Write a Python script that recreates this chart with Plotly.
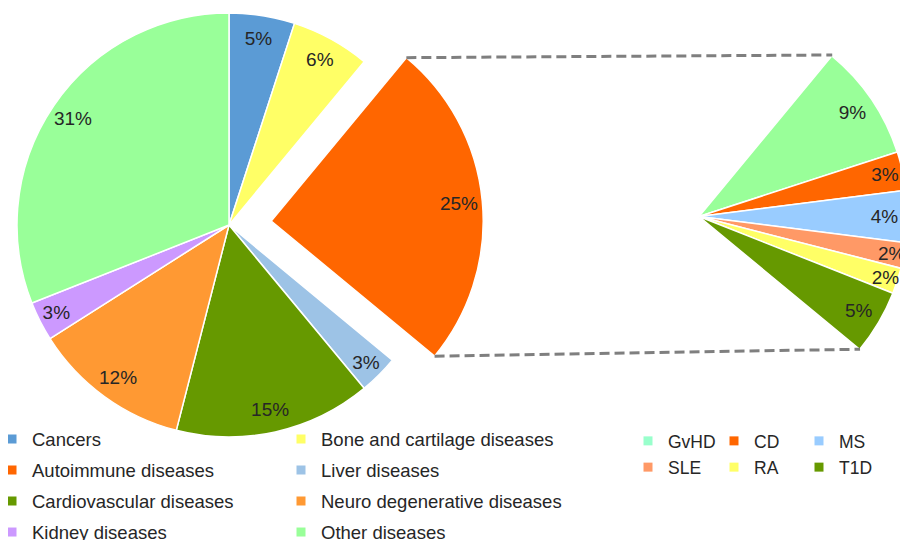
import math
import plotly.graph_objects as go

# ---------------- data ----------------
main_labels = ["Cancers", "Bone and cartilage diseases", "Autoimmune diseases",
               "Liver diseases", "Cardiovascular diseases",
               "Neuro degenerative diseases", "Kidney diseases", "Other diseases"]
main_values = [5, 6, 25, 3, 15, 12, 3, 31]
main_colors = ["#5B9BD5", "#FFFF66", "#FF6600", "#9DC3E6", "#669900",
               "#FF9933", "#CC99FF", "#99FF99"]

sub_labels = ["GvHD", "CD", "MS", "SLE", "RA", "T1D"]
sub_values = [9, 3, 4, 2, 2, 5]
sub_colors = ["#99FF99", "#FF6600", "#99CCFF", "#FF9966", "#FFFF66", "#669900"]
sub_legend_colors = ["#99FFCC", "#FF6600", "#99CCFF", "#FF9966", "#FFFF66", "#669900"]

exploded = "Autoimmune diseases"

# ---------------- geometry (layout, in page pixels) ----------------
OFF = 8                      # default page margin around the figure
W, H = 900, 532              # figure size
MAIN_C, MAIN_R = (229, 225), 212
SUB_C, SUB_R = (699, 216), 209
PULL = 0.2
LABEL_HOLE = 0.78            # ring used only to place the % labels near the rim
FONT = "Liberation Sans, Arial, Helvetica, sans-serif"
TXT = "#262626"
CLEAR = "rgba(0,0,0,0)"


def px(sx, sy):
    return (sx - OFF) / W, 1 - (sy - OFF) / H


def domain(c, r):
    x0, y1 = px(c[0] - r, c[1] - r)
    x1, y0 = px(c[0] + r, c[1] + r)
    return dict(x=[max(0, x0), min(1, x1)], y=[max(0, y0), min(1, y1)])


total = sum(main_values)
k = main_labels.index(exploded)
a0 = 360 * sum(main_values[:k]) / total
a1 = 360 * sum(main_values[:k + 1]) / total
amid = math.radians((a0 + a1) / 2)
PULL_C = (MAIN_C[0] + PULL * MAIN_R * math.sin(amid),
          MAIN_C[1] - PULL * MAIN_R * math.cos(amid))

pct = [f"{v}%" for v in main_values]
fig = go.Figure()

common = dict(sort=False, direction="clockwise", showlegend=False,
              hoverinfo="skip", textinfo="text")
PCT_FONT = dict(family=FONT, size=19, color=TXT)

# main pie (exploded slice left empty)
fig.add_trace(go.Pie(
    labels=main_labels, values=main_values, domain=domain(MAIN_C, MAIN_R),
    rotation=0, text=[""] * len(main_values),
    marker=dict(colors=[CLEAR if l == exploded else c for l, c in zip(main_labels, main_colors)],
                line=dict(color="white", width=[0 if l == exploded else 1.5 for l in main_labels])),
    **common))
# exploded slice
fig.add_trace(go.Pie(
    labels=main_labels, values=main_values, domain=domain(PULL_C, MAIN_R),
    rotation=0, text=[""] * len(main_values),
    marker=dict(colors=[c if l == exploded else CLEAR for l, c in zip(main_labels, main_colors)],
                line=dict(color="white", width=[1.5 if l == exploded else 0 for l in main_labels])),
    **common))
# labels of main pie
fig.add_trace(go.Pie(
    labels=main_labels, values=main_values, domain=domain(MAIN_C, MAIN_R),
    rotation=0, hole=LABEL_HOLE, textposition="inside", insidetextorientation="horizontal",
    text=["" if l == exploded else t for l, t in zip(main_labels, pct)],
    textfont=PCT_FONT,
    marker=dict(colors=[CLEAR] * len(main_values), line=dict(width=0)),
    **common))
fig.add_trace(go.Pie(
    labels=main_labels, values=main_values, domain=domain(PULL_C, MAIN_R),
    rotation=0, hole=LABEL_HOLE, textposition="inside", insidetextorientation="horizontal",
    text=[t if l == exploded else "" for l, t in zip(main_labels, pct)],
    textfont=PCT_FONT,
    marker=dict(colors=[CLEAR] * len(main_values), line=dict(width=0)),
    **common))

# breakdown pie (only the exploded slice's share is drawn)
rest = total - sum(sub_values)
sub_all_vals = sub_values + [rest]
sub_all_labels = sub_labels + ["rest"]
fig.add_trace(go.Pie(
    labels=sub_all_labels, values=sub_all_vals, domain=domain(SUB_C, SUB_R),
    rotation=a0, text=[""] * len(sub_all_vals),
    marker=dict(colors=sub_colors + [CLEAR],
                line=dict(color="white", width=[1.5] * len(sub_values) + [0])),
    **common))
fig.add_trace(go.Pie(
    labels=sub_all_labels, values=sub_all_vals, domain=domain(SUB_C, SUB_R),
    rotation=a0, hole=LABEL_HOLE, textposition="inside", insidetextorientation="horizontal",
    text=[f"{v}%" for v in sub_values] + [""],
    textfont=PCT_FONT,
    marker=dict(colors=[CLEAR] * len(sub_all_vals), line=dict(width=0)),
    **common))


# connector lines between the exploded slice and the breakdown
def corner(c, r, ang):
    a = math.radians(ang)
    return (c[0] + r * math.sin(a), c[1] - r * math.cos(a))


for ang in (a0, a1):
    p = px(*corner(PULL_C, MAIN_R, ang))
    q = px(*corner(SUB_C, SUB_R, ang))
    fig.add_shape(type="line", xref="paper", yref="paper",
                  x0=p[0], y0=p[1], x1=q[0], y1=q[1],
                  line=dict(color="#7F7F7F", width=3, dash="10px,5px"))

# legends (square markers), one legend per column
main_cols = [[0, 2, 4, 6], [1, 3, 5, 7]]
sub_cols = [[0, 3], [1, 4], [2, 5]]
main_text_x = [32, 321]
sub_text_x = [668, 754, 839]
MAIN_LF, SUB_LF = 18.5, 17.5
MAIN_TOP, SUB_TOP = 420.5, 423
legends = {}

n = 1
for ci, col in enumerate(main_cols):
    lid = "legend" if n == 1 else f"legend{n}"
    for i in col:
        fig.add_trace(go.Scatter(x=[None], y=[None], mode="markers", name=main_labels[i],
                                 marker=dict(symbol="square", size=9, color=main_colors[i]),
                                 legend=lid, legendgroup=main_labels[i], hoverinfo="skip"))
    lx, ly = px(main_text_x[ci] - 40, MAIN_TOP)
    legends[lid] = dict(x=lx, y=ly, xanchor="left", yanchor="top",
                        font=dict(family=FONT, size=MAIN_LF, color=TXT), tracegroupgap=3.95,
                        bgcolor=CLEAR, borderwidth=0)
    n += 1
for ci, col in enumerate(sub_cols):
    lid = f"legend{n}"
    for i in col:
        fig.add_trace(go.Scatter(x=[None], y=[None], mode="markers", name=sub_labels[i],
                                 marker=dict(symbol="square", size=9, color=sub_legend_colors[i]),
                                 legend=lid, legendgroup=sub_labels[i], hoverinfo="skip"))
    lx, ly = px(sub_text_x[ci] - 40, SUB_TOP)
    legends[lid] = dict(x=lx, y=ly, xanchor="left", yanchor="top",
                        font=dict(family=FONT, size=SUB_LF, color=TXT), tracegroupgap=0.5,
                        bgcolor=CLEAR, borderwidth=0)
    n += 1

fig.update_layout(
    width=W, height=H,
    margin=dict(l=0, r=0, t=0, b=0, pad=0, autoexpand=False),
    paper_bgcolor="white", plot_bgcolor="white",
    xaxis=dict(visible=False), yaxis=dict(visible=False),
    uniformtext=dict(mode="show", minsize=19),
    showlegend=True,
    **legends,
)

fig.write_html("out.html", config={"staticPlot": True})
